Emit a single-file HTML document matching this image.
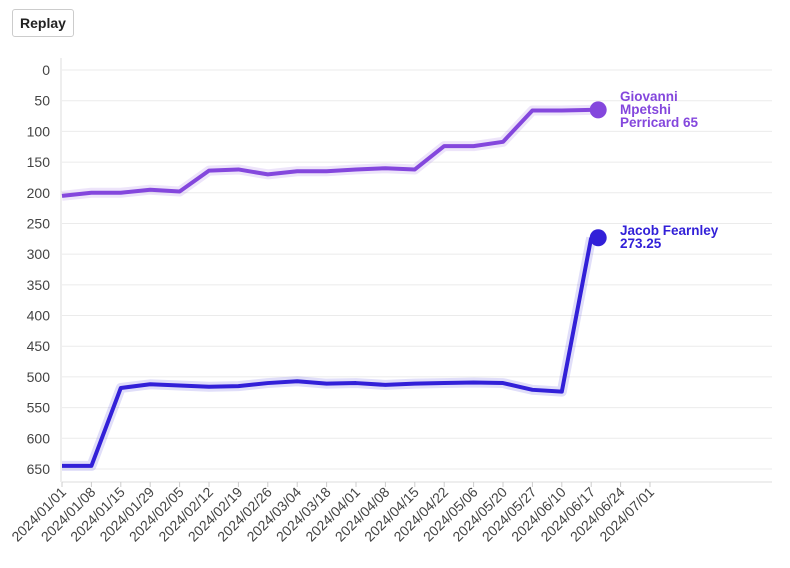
<!DOCTYPE html>
<html><head><meta charset="utf-8"><style>
body{margin:0;width:790px;height:568px;background:#fff;overflow:hidden;font-family:"Liberation Sans",sans-serif;}
#replay{position:absolute;left:12px;top:9px;width:62px;height:28px;border:1px solid #ccc;border-radius:3px;background:#fff;font:bold 14px "Liberation Sans",sans-serif;color:#222;padding:0;}
svg{position:absolute;left:0;top:0;}
</style></head><body>
<button id="replay">Replay</button>
<svg id="chart" width="790" height="568"></svg>
<script>
const categories=["2024/01/01","2024/01/08","2024/01/15","2024/01/29","2024/02/05","2024/02/12","2024/02/19","2024/02/26","2024/03/04","2024/03/18","2024/04/01","2024/04/08","2024/04/15","2024/04/22","2024/05/06","2024/05/20","2024/05/27","2024/06/10","2024/06/17","2024/06/24","2024/07/01"];
const yTicks=[0,50,100,150,200,250,300,350,400,450,500,550,600,650];
const giovanniValues=[205,200,200,195,198,164,162,170,165,165,162,160,162,124,124,117,66,66,65];
const jacobValues=[645,645,518,512,514,516,515,510,507,511,510,513,511,510,509,510,521,524,273.25];
const seriesNames=["Giovanni Mpetshi Perricard","Jacob Fearnley"];
const seriesColors=["#8447dd","#3220d8"];
const NS="http://www.w3.org/2000/svg";
const svg=document.getElementById('chart');
const x0=62,dx=29.4,y0=70,yk=399/650;
const xs=i=>x0+i*dx, ys=v=>y0+v*yk;
function mk(t,a,p){const e=document.createElementNS(NS,t);for(const k in a)e.setAttribute(k,a[k]);(p||svg).appendChild(e);return e;}
yTicks.forEach(v=>{
  const g=mk('line',{x1:x0,x2:772,y1:ys(v),y2:ys(v),stroke:'#ebebeb','stroke-width':1});
  
  
  const t=mk('text',{x:50,y:ys(v)+5,'text-anchor':'end','font-size':14,fill:'#444'});
  t.textContent=v;
  
  
});
const ax=mk('line',{x1:x0,x2:772,y1:482,y2:482,stroke:'#ddd'});


const ay=mk('line',{x1:61,x2:61,y1:58,y2:482,stroke:'#ddd'});


categories.forEach((c,i)=>{
  const tk=mk('line',{x1:xs(i),x2:xs(i),y1:482,y2:487,stroke:'#ccc'});
  
  
  const t=mk('text',{x:xs(i)+5,y:493,'text-anchor':'end','font-size':14,fill:'#444',transform:`rotate(-45 ${xs(i)+5} 493)`});
  t.textContent=c;
  
  
});
[giovanniValues,jacobValues].forEach((vals,si)=>{
  const pts=vals.map((v,i)=>xs(i)+','+ys(v)).join(' ');
  const glow=mk('polyline',{points:pts,fill:'none',stroke:seriesColors[si],'stroke-opacity':0.15,'stroke-width':10,'stroke-linejoin':'round'});
  
  
  const l=mk('polyline',{points:pts,fill:'none',stroke:seriesColors[si],'stroke-width':4,'stroke-linejoin':'round'});
  
  
  const n=vals.length-1,cx=xs(n)+7,cy=ys(vals[n]);
  const d=mk('circle',{cx:cx,cy:cy,r:8.5,fill:seriesColors[si]});
  
  
  const lines=si?[seriesNames[si],String(vals[n])]:["Giovanni","Mpetshi","Perricard "+vals[n]];
  const t=mk('text',{x:620,y:cy-(lines.length-1)*6.5+4,'font-size':13.5,'font-weight':'bold',fill:seriesColors[si]});
  lines.forEach((s,k)=>{const sp=mk('tspan',{x:620,dy:k?13:0},t);sp.textContent=s;});
  
  
});
</script>
</body></html>
